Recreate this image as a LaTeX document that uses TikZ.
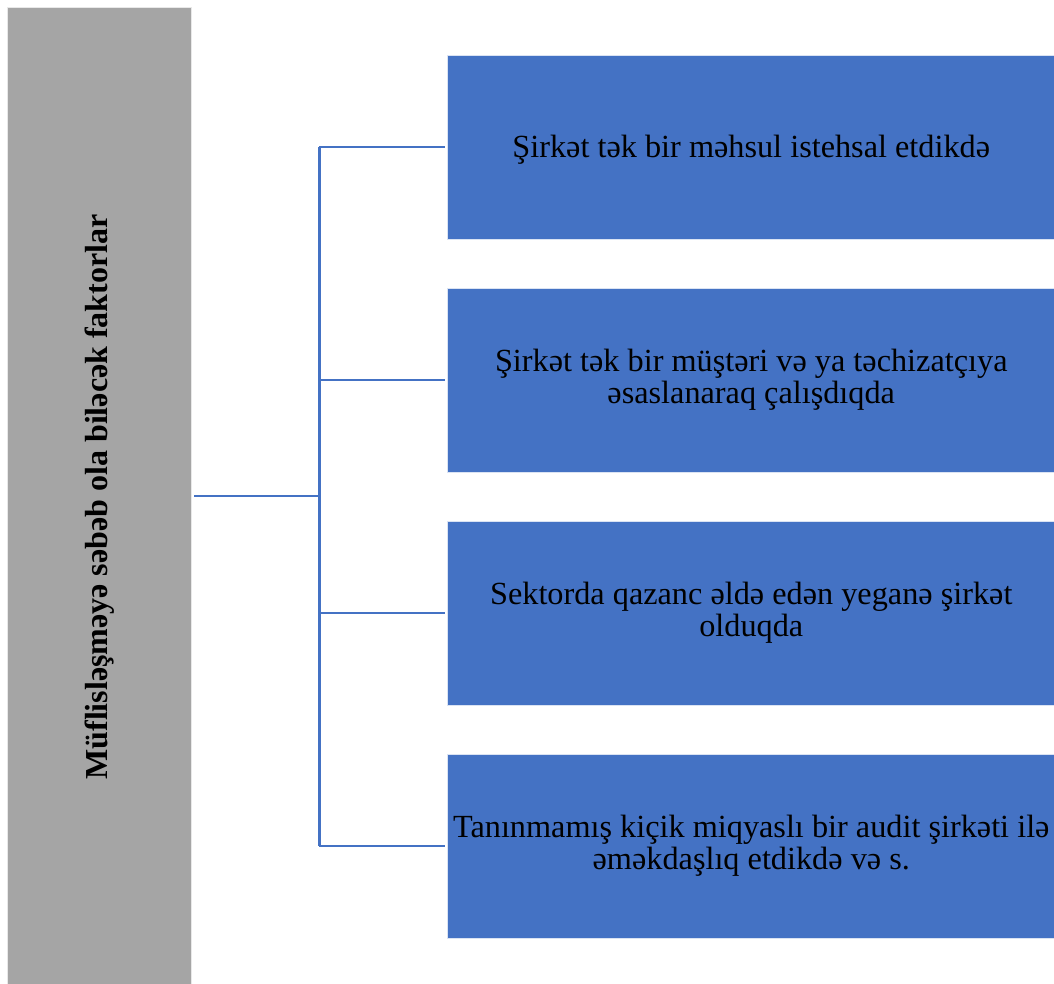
\documentclass[tikz,border=0pt]{standalone}
\usepackage{fontspec}
\setmainfont{Liberation Serif}
\definecolor{boxblue}{HTML}{4472C4}
\definecolor{boxgray}{HTML}{A5A5A5}
\begin{document}
\begin{tikzpicture}[x=0.75pt,y=-0.75pt,
  bluebox/.style={rectangle,fill=boxblue,draw=white!80!boxblue,line width=0.75pt,
    minimum width=607.5*0.75pt,minimum height=184*0.75pt,inner sep=0pt,
    align=center,font=\fontsize{24.2}{24}\selectfont,text=black,
    execute at begin node={\rule{0pt}{0.87em}}},
  graybox/.style={rectangle,fill=boxgray,draw=white!75!boxgray,line width=0.75pt,
    minimum width=980*0.75pt,minimum height=184*0.75pt,inner sep=0pt,
    rotate=90,font=\bfseries\fontsize{24}{24}\selectfont,text=black},
  conn/.style={draw=boxblue,line width=2.1pt}]
\useasboundingbox (0,0) rectangle (1054,983);
\begin{scope}
\clip (0,0) rectangle (1054,983);
\node[graybox] (g) at (99.5,497) {Müflisləşməyə səbəb ola biləcək faktorlar};
\node[bluebox] (b1) at (751.25,147) {Şirkət tək bir məhsul istehsal etdikdə};
\node[bluebox] (b2) at (751.25,380) {Şirkət tək bir müştəri və ya təchizatçıya\\əsaslanaraq çalışdıqda};
\node[bluebox] (b3) at (751.25,613) {Sektorda qazanc əldə edən yeganə şirkət\\olduqda};
\node[bluebox] (b4) at (751.25,846) {Tanınmamış kiçik miqyaslı bir audit şirkəti ilə\\əməkdaşlıq etdikdə və s.};
\end{scope}
\coordinate (gs) at (194,496);
\coordinate (j) at (319.3,496);
\draw[conn] (gs) -- (j);
\draw[conn] (j |- b1.west) -- (j |- b4.west);
\foreach \b in {b1,b2,b3,b4}{
  \draw[conn] (j |- \b.west) -- ([xshift=-2.5*0.75pt]\b.west);
}
\end{tikzpicture}
\end{document}
